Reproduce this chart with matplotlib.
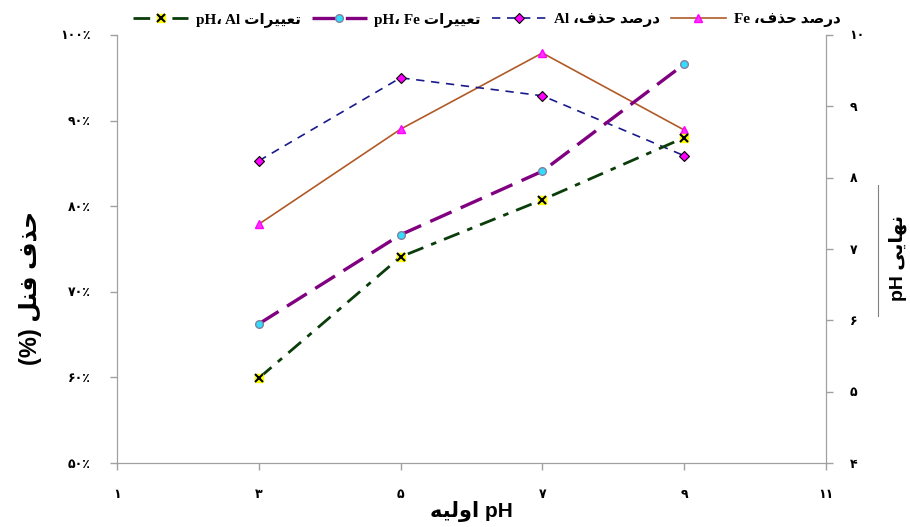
import numpy as np
import matplotlib
matplotlib.use("Agg")
import matplotlib.pyplot as plt
from matplotlib.lines import Line2D

# داده ها
ph_initial = [3, 5, 7, 9]
fe_removal = [77.9, 89.0, 97.9, 88.9]      # درصد حذف Fe
al_removal = [85.3, 95.0, 92.9, 85.9]      # درصد حذف Al
fe_ph_final = [5.95, 7.20, 8.09, 9.59]     # pH نهایی Fe
al_ph_final = [5.19, 6.89, 7.69, 8.56]     # pH نهایی Al

fa_digits = str.maketrans("0123456789", "۰۱۲۳۴۵۶۷۸۹")
x_ticks = [1, 3, 5, 7, 9, 11]
left_ticks = [50, 60, 70, 80, 90, 100]
right_ticks = [4, 5, 6, 7, 8, 9, 10]

# متن فارسی به ترتیب نمایشی (اشکال ارائه)
w_darsad = "\uFEAA\uFEBB\uFEAD\uFEA9"           # درصد
w_hazf = "\uFED1\uFEAC\uFEA3"                   # حذف
w_taghyirat = "\uFE95\uFE8D\uFEAE\uFEF4\uFEF4\uFECC\uFE97"  # تغییرات
w_fenol = "\uFEDE\uFEE8\uFED3"                  # فنل
w_nahaei = "\uFEF0\uFEF3\uFE8E\uFEEC\uFEE7"      # نهایی
w_avalie = "\uFEEA\uFEF4\uFEDF\uFEED\uFE8D"      # اولیه

lbl_fe_rem = "Fe \u060C" + w_hazf + " " + w_darsad
lbl_al_rem = "Al \u060C" + w_hazf + " " + w_darsad
lbl_fe_ph = "pH\u060C Fe " + w_taghyirat
lbl_al_ph = "pH\u060C Al " + w_taghyirat

serif_fa = ["Liberation Serif", "DejaVu Sans"]
sans_fa = ["Liberation Sans", "DejaVu Sans"]

fig = plt.figure(figsize=(9.1, 5.27), dpi=100)
ax = fig.add_axes([0.1286, 0.1214, 0.779, 0.8122])
ax2 = ax.twinx()

# محور چپ: درصد حذف
h_fe, = ax.plot(ph_initial, fe_removal, color="#B05A28", lw=1.2, marker="^",
                ms=6, mfc="#FF33FF", mec="#FF00FF", zorder=3)
h_al, = ax.plot(ph_initial, al_removal, color="#1A1A8C", lw=1.2,
                dashes=(5, 4), marker="D", ms=5, mfc="#FF00FF", mec="black",
                mew=0.8, zorder=3)

# محور راست: pH نهایی
h_feph, = ax2.plot(ph_initial, fe_ph_final, color="#800080", lw=2.4,
                   dashes=(7, 3), marker="o", ms=5.5, mfc="#33DDFF",
                   mec="#8080A0", zorder=3)
h_alph, = ax2.plot(ph_initial, al_ph_final, color="#0B3D0B", lw=2.0,
                   dashes=(6, 3, 2, 3), marker="s", ms=6, mfc="#FFFF00",
                   mec="#FFFF00", zorder=3)
h_alph_x, = ax2.plot(ph_initial, al_ph_final, ls="none", marker="x", ms=6,
                     mec="black", mew=1.5, zorder=4)

ax.set_xlim(1, 11)
ax.set_ylim(50, 100)
ax2.set_ylim(4, 10)
ax.set_xticks(x_ticks)
ax.set_xticklabels([str(v).translate(fa_digits) for v in x_ticks])
ax.set_yticks(left_ticks)
ax.set_yticklabels([str(v).translate(fa_digits) + "\u066A" for v in left_ticks])
ax2.set_yticks(right_ticks)
ax2.set_yticklabels([str(v).translate(fa_digits) for v in right_ticks])

grey = "#A0A0A0"
for a in (ax, ax2):
    a.spines["top"].set_visible(False)
    for s in ("left", "right", "bottom"):
        a.spines[s].set_color(grey)
    a.tick_params(colors=grey, labelcolor="black", length=5, width=1)
    for t in a.get_xticklabels() + a.get_yticklabels():
        t.set_fontfamily(sans_fa)
        t.set_fontweight("bold")
        t.set_fontsize(9)
ax.tick_params(axis="x", pad=14)
ax.tick_params(axis="y", pad=14)
ax2.tick_params(axis="y", pad=12)

ax.set_xlabel(w_avalie + " pH", family=sans_fa, weight="bold", fontsize=15,
              labelpad=0)
ax.set_ylabel("(%) " + w_fenol + " " + w_hazf, family=sans_fa,
              weight="bold", fontsize=17)
ax.yaxis.set_label_coords(-0.106, 0.41)
ax2.set_ylabel("pH " + w_nahaei, family=sans_fa, weight="bold", fontsize=14)
ax2.yaxis.set_label_coords(1.088, 0.48)

fig.add_artist(Line2D([878 / 910, 878 / 910], [1 - 185 / 527, 1 - 316 / 527],
                      color="#808080", lw=0.8))

fig.legend([(h_alph, h_alph_x), h_feph, h_al, h_fe],
           [lbl_al_ph, lbl_fe_ph, lbl_al_rem, lbl_fe_rem],
           loc="upper center", bbox_to_anchor=(0.535, 1.003), ncol=4,
           frameon=False, handlelength=3.6, columnspacing=0.7,
           handletextpad=0.5,
           prop={"family": serif_fa, "weight": "bold", "size": 11})

fig.savefig("out.png", dpi=100)
